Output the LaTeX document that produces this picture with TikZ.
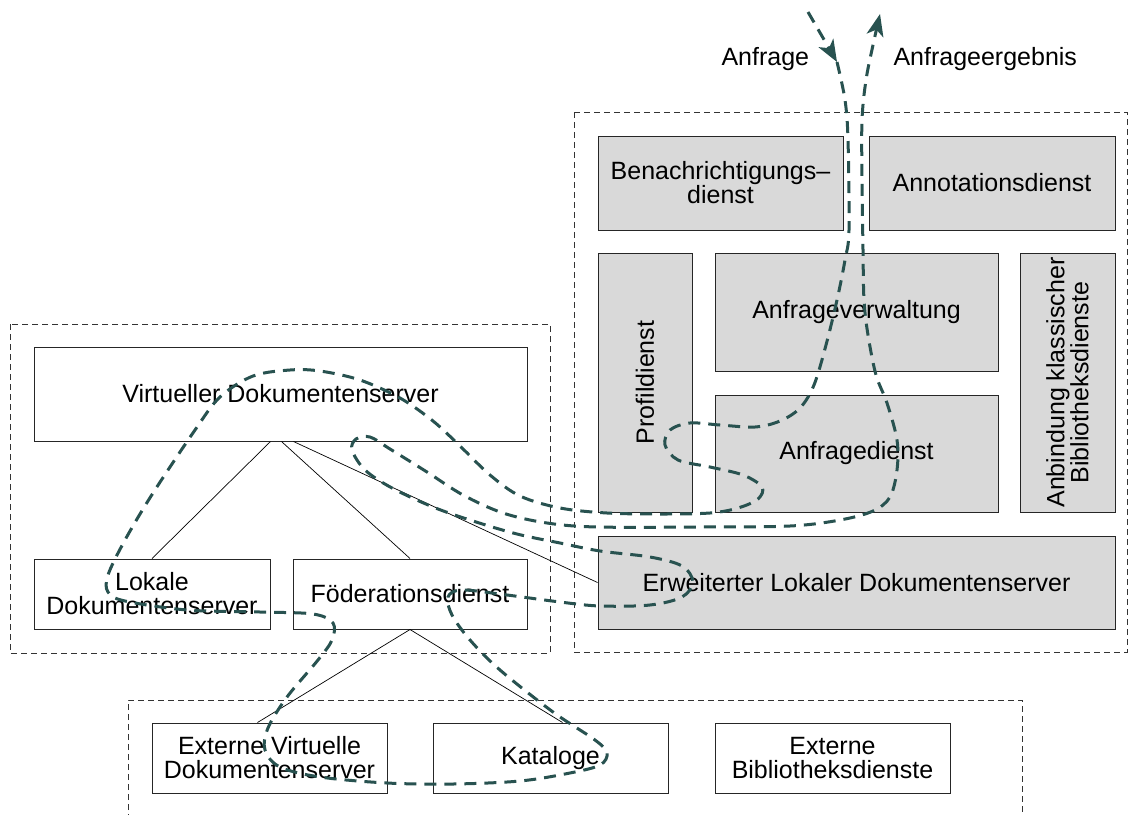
\documentclass[tikz,border=0pt]{standalone}
\usepackage{fontspec}
\setmainfont{Liberation Sans}
\usetikzlibrary{arrows.meta}
\definecolor{trailgreen}{RGB}{40,82,80}

\begin{document}
\begin{tikzpicture}[x=1pt, y=-1pt,
  font=\fontsize{25}{24}\selectfont,
  box/.style={draw=black!85, line width=1pt, align=center, inner sep=2pt},
  svc/.style={box, fill=black!15},
  group/.style={draw=black!80, line width=0.8pt, dash pattern=on 6pt off 4pt},
  link/.style={draw=black, line width=0.7pt},
  trail/.style={draw=trailgreen, line width=3pt, dash pattern=on 12pt off 8pt},
  tipped/.style={-{Stealth[length=22pt, width=17pt, inset=6pt]}}
]
\useasboundingbox (0,0) rectangle (1129,814);

% groups
\draw[group] (574,112) rectangle (1127,652);
\draw[group] (10,324) rectangle (550,653);
\draw[group] (128,830) |- (1022,700) -- (1022,830);

% extended local server
\node[svc, minimum width=245, minimum height=94] (bena) at (720.5,183) {Benachrichtigungs--\\dienst};
\node[svc, minimum width=246, minimum height=94] (anno) at (992,183) {Annotationsdienst};
\node[svc, rotate=90, minimum width=259, minimum height=94] (prof) at (645,382.5) {Profildienst};
\node[svc, minimum width=283, minimum height=118] (verw) at (856.5,312) {Anfrageverwaltung};
\node[svc, minimum width=283, minimum height=117] (adie) at (856.5,453.5) {Anfragedienst};
\node[svc, rotate=90, minimum width=259, minimum height=95] (anbi) at (1067.5,382.5) {Anbindung klassischer\\Bibliotheksdienste};
\node[svc, minimum width=517, minimum height=93] (erwe) at (856.5,582.5) {Erweiterter Lokaler Dokumentenserver};

% virtual server
\node[box, minimum width=493, minimum height=94] (virt) at (280.5,394) {Virtueller Dokumentenserver};
\node[box, minimum width=236, minimum height=70] (loka) at (152,594) {Lokale\\Dokumentenserver};
\node[box, minimum width=234, minimum height=70] (foed) at (410,594) {Föderationsdienst};

% external
\node[box, minimum width=235, minimum height=70] (extv) at (269.5,758) {Externe Virtuelle\\Dokumentenserver};
\node[box, minimum width=235, minimum height=70] (kata) at (550.5,758) {Kataloge};
\node[box, minimum width=235, minimum height=70] (exbi) at (832.5,758) {Externe\\Bibliotheksdienste};

\draw[link] ([xshift=-10pt]virt.south) -- (loka.north);
\draw[link] ([xshift=1pt]virt.south) -- (foed.north);
\draw[link] ([xshift=13pt]virt.south) -- (erwe.west);
\draw[link] (foed.south) -- ([xshift=-12pt]extv.north);
\draw[link] (foed.south) -- ([xshift=12pt]kata.north);

% query and result
\node[anchor=base west] (anfr) at (718,65) {Anfrage};
\node[anchor=base west] (ergb) at (890,65) {Anfrageergebnis};
\coordinate (qin) at (808,12);
\coordinate (qtip) at (837,62);
\coordinate (rtip) at (880,14);
\draw[trail, tipped] (qin) -- (qtip);
\draw[trail, tipped] plot[smooth, tension=0.55] coordinates {(qtip)
  (845,100) (848,140) (849,230) (845,260) (837,300) (826,345) (814,385)
  (800,408) (780,421) (755,427) (720,425) (690,423) (670,430) (665,445)
  (678,460) (710,467) (743,475) (762,487) (758,499) (738,508) (710,513)
  (660,514) (607,513) (560,508) (520,496) (490,475) (460,446) (433,421)
  (400,398) (360,380) (320,371) (290,370) (253,376) (220,397) (195,430)
  (153,493) (125,540) (108,575) (108,592) (125,601) (187,610) (260,612)
  (313,614) (333,623) (332,640) (318,660) (287,697) (268,728) (265,750)
  (280,767) (320,777) (387,783) (453,784) (520,781) (570,773) (600,765)
  (607,753) (595,740) (553,712) (500,670) (470,640) (452,615) (448,597)
  (462,590) (507,595) (560,602) (600,606) (650,605) (682,597) (693,582)
  (682,566) (650,557) (600,551) (560,543) (517,534) (473,521) (433,507)
  (392,488) (365,470) (352,450) (356,439) (370,437) (390,449) (427,472)
  (463,495) (503,513) (547,523) (597,527) (700,527) (790,526) (840,520)
  (873,511) (890,497) (897,470) (897,440) (887,403) (876,375) (868,335)
  (864,300) (863,250) (862,180) (862,120) (866,80) (873,45) (rtip)};
\end{tikzpicture}
\end{document}
